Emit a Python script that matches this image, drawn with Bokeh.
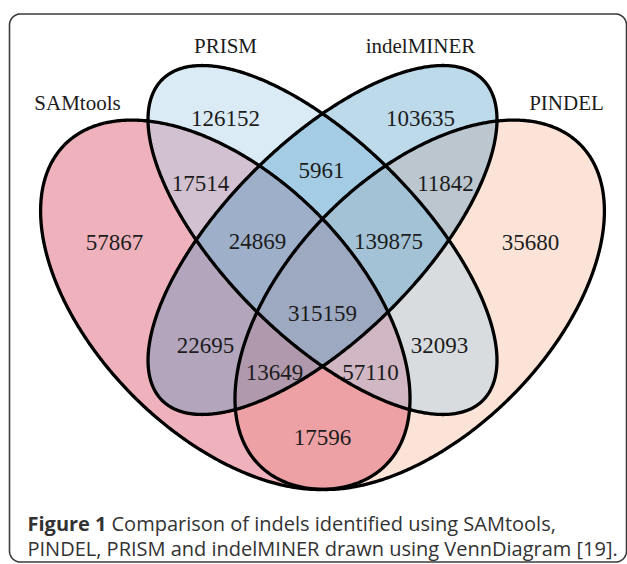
import numpy as np
from bokeh.plotting import figure
from bokeh.models import Range1d, ColumnDataSource
from bokeh.core.properties import value
from bokeh.embed import file_html
from bokeh.resources import INLINE

# ---------------- data ----------------
set_names = ["SAMtools", "PRISM", "indelMINER", "PINDEL"]
region_sets = ["SAMtools", "PRISM", "indelMINER", "PINDEL",
               "SAMtools+PRISM", "PRISM+indelMINER", "indelMINER+PINDEL",
               "SAMtools+PRISM+indelMINER", "PRISM+indelMINER+PINDEL",
               "SAMtools+indelMINER", "all four", "PRISM+PINDEL",
               "SAMtools+indelMINER+PINDEL", "SAMtools+PRISM+PINDEL",
               "SAMtools+PINDEL"]
region_counts = [57867, 126152, 103635, 35680,
                 17514, 5961, 11842,
                 24869, 139875,
                 22695, 315159, 32093,
                 13649, 57110,
                 17596]
caption_bold = "Figure 1"
caption_line1 = "Comparison of indels identified using SAMtools,"
caption_line2 = "PINDEL, PRISM and indelMINER drawn using VennDiagram [19]."

# ---------------- layout (pixel space of the picture) ----------------
W, H = 627, 564
X0, Y0, S = 322.0, 239.5, 648.0   # VennDiagram unit (0.5, 0.57) -> pixel, scale

# VennDiagram quad layout: centre (units), semi-axes (units), rotation (deg, image space)
ellipse_geom = {
    "SAMtools":   (0.35, 0.47, 0.35, 0.20, 45),
    "PRISM":      (0.50, 0.57, 0.35, 0.15, 45),
    "indelMINER": (0.50, 0.57, 0.35, 0.15, -45),
    "PINDEL":     (0.65, 0.47, 0.35, 0.20, -45),
}
fill_style = {
    "PINDEL":     ("#FCE3D7", 1.0),
    "SAMtools":   ("#D73E58", 0.40),
    "PRISM":      ("#AFD3E9", 0.45),
    "indelMINER": ("#2A86BE", 0.31),
}
draw_order = ["PINDEL", "SAMtools", "PRISM", "indelMINER"]

set_label_pos = {"SAMtools": (77, 102), "PRISM": (225, 45),
                 "indelMINER": (420, 45), "PINDEL": (566, 102)}
region_label_pos = [(114, 242), (225, 118), (420, 118), (530, 242),
                    (200, 183), (321, 170), (445, 183),
                    (257, 241), (388, 241),
                    (205, 345), (322, 313), (439, 345),
                    (274, 372), (370, 372),
                    (322, 437)]


def ellipse_px(xu, yu, a, b, rot, n=600):
    t = np.linspace(0, 2 * np.pi, n)
    phi = np.radians(rot)
    cx = X0 + (xu - 0.5) * S
    cy = Y0 - (yu - 0.57) * S
    xs = cx + a * S * np.cos(t) * np.cos(phi) - b * S * np.sin(t) * np.sin(phi)
    ys = cy + a * S * np.cos(t) * np.sin(phi) + b * S * np.sin(t) * np.cos(phi)
    return xs, ys


p = figure(width=W, height=H, x_range=Range1d(0, W), y_range=Range1d(H, 0),
           output_backend="svg", toolbar_location=None, min_border=0,
           x_axis_location=None, y_axis_location=None)
p.grid.visible = False
p.outline_line_color = None
p.background_fill_color = "white"
p.border_fill_color = "white"

# rounded frame
L, T, R, B, rad = 9.0, 13.5, 626.0, 561.5, 11.0
seg = []
def arc(cx, cy, a0, a1):
    tt = np.radians(np.linspace(a0, a1, 20))
    return list(zip(cx + rad * np.cos(tt), cy + rad * np.sin(tt)))
seg += arc(L + rad, T + rad, 180, 270)
seg += arc(R - rad, T + rad, 270, 360)
seg += arc(R - rad, B - rad, 0, 90)
seg += arc(L + rad, B - rad, 90, 180)
seg.append(seg[0])
p.line([q[0] for q in seg], [q[1] for q in seg], line_color="#3c3c3c", line_width=1.6)

# fills
shapes = {k: ellipse_px(*v) for k, v in ellipse_geom.items()}
for name in draw_order:
    xs, ys = shapes[name]
    col, alp = fill_style[name]
    p.patch(xs, ys, fill_color=col, fill_alpha=alp, line_color=None)
# outlines
for name in set_names:
    xs, ys = shapes[name]
    p.line(xs, ys, line_color="black", line_width=3.3, line_join="round")

# region counts
src = ColumnDataSource(dict(x=[q[0] for q in region_label_pos],
                            y=[q[1] for q in region_label_pos],
                            t=[str(c) for c in region_counts]))
p.text(x="x", y="y", text="t", source=src, text_font=value("Liberation Serif"),
       text_font_size="23px", text_align="center", text_baseline="alphabetic",
       text_color="#1c1c1c")

# set names
src2 = ColumnDataSource(dict(x=[set_label_pos[n][0] for n in set_names],
                             y=[set_label_pos[n][1] for n in set_names],
                             t=set_names))
p.text(x="x", y="y", text="t", source=src2, text_font=value("Liberation Serif"),
       text_font_size="21px", text_align="center", text_baseline="alphabetic",
       text_color="#1c1c1c")

# caption
p.text(x=[27], y=[523], text=[caption_bold], text_font=value("Open Sans"),
       text_font_size="20px", text_font_style="bold", text_color="#333333",
       text_baseline="alphabetic")
p.text(x=[111], y=[523], text=[caption_line1], text_font=value("Open Sans"),
       text_font_size="20px", text_color="#333333", text_baseline="alphabetic")
p.text(x=[27], y=[548], text=[caption_line2], text_font=value("Open Sans"),
       text_font_size="20px", text_color="#333333", text_baseline="alphabetic")

open("out.html", "w").write(file_html(p, INLINE))
